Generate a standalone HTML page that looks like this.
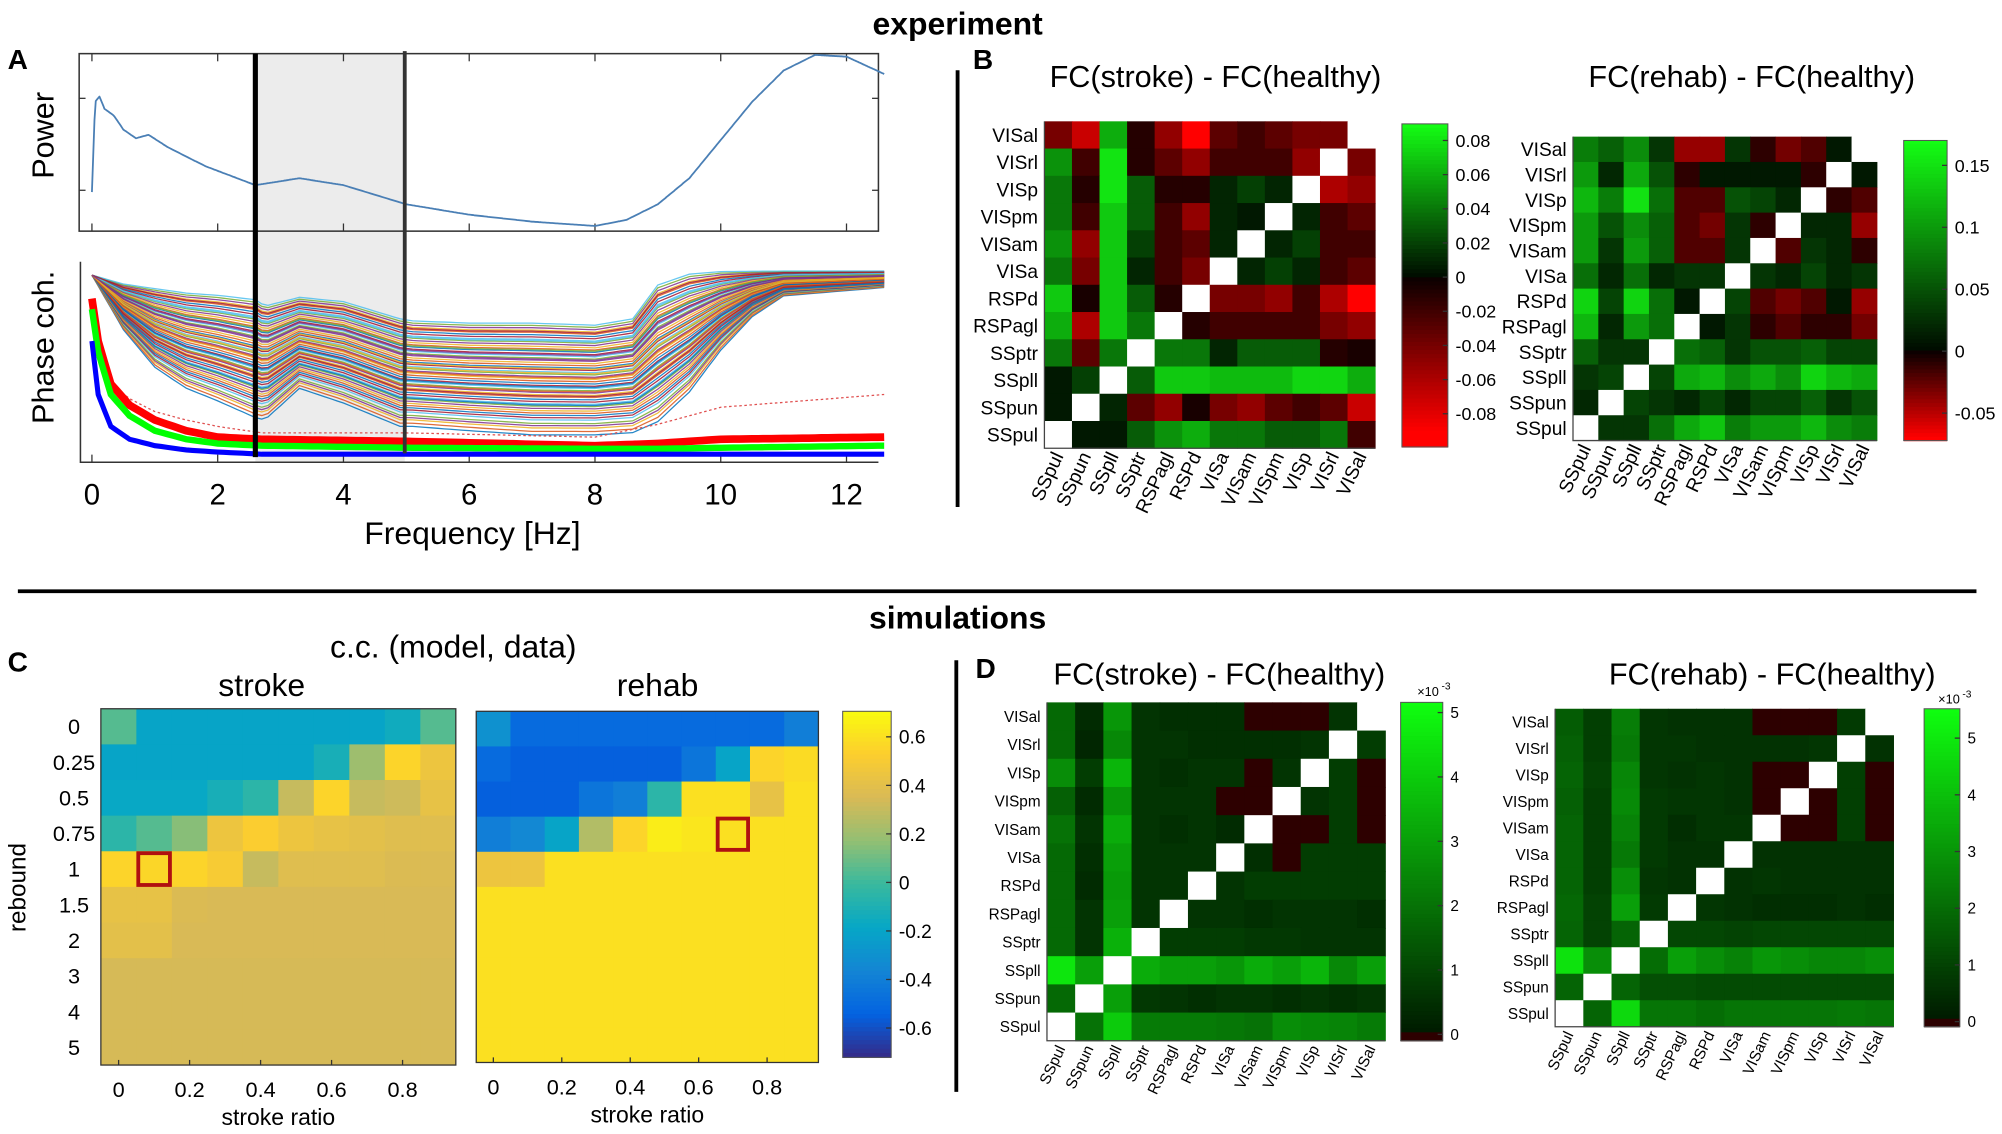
<!DOCTYPE html>
<html><head><meta charset="utf-8">
<style>
html,body{margin:0;padding:0;background:#fff;}
svg{display:block;font-family:"Liberation Sans",Arial,sans-serif;}
</style></head>
<body>
<svg id="fig" xmlns="http://www.w3.org/2000/svg" width="2002" height="1134" viewBox="0 0 1568 888" preserveAspectRatio="none">
<rect x="0" y="0" width="1568" height="888" fill="#fff"/>
<text x="750" y="27" font-size="25" font-weight="bold" text-anchor="middle">experiment</text>
<text x="750" y="492" font-size="25" font-weight="bold" text-anchor="middle">simulations</text>
<text x="6" y="54" font-size="22" font-weight="bold">A</text>
<text x="762" y="54" font-size="22" font-weight="bold">B</text>
<text x="6" y="526" font-size="22" font-weight="bold">C</text>
<text x="764" y="531" font-size="22" font-weight="bold">D</text>
<line x1="14" y1="463" x2="1548" y2="463" stroke="#000" stroke-width="3"/>
<line x1="750" y1="55" x2="750" y2="397" stroke="#000" stroke-width="3"/>
<line x1="749" y1="517" x2="749" y2="855" stroke="#000" stroke-width="3"/>
<text x="952" y="68" font-size="24" text-anchor="middle">FC(stroke) - FC(healthy)</text>
<text x="1372" y="68" font-size="24" text-anchor="middle">FC(rehab) - FC(healthy)</text>
<text x="955" y="536" font-size="24" text-anchor="middle">FC(stroke) - FC(healthy)</text>
<text x="1388" y="536" font-size="24" text-anchor="middle">FC(rehab) - FC(healthy)</text>
<text x="355" y="515" font-size="25" text-anchor="middle">c.c. (model, data)</text>
<text x="205" y="545" font-size="25" text-anchor="middle">stroke</text>
<text x="515" y="545" font-size="25" text-anchor="middle">rehab</text>
</svg>
<script>
// ---------- DATA ----------
const powerFreq=[0,0.05,0.12,0.2,0.35,0.5,0.7,0.9,1.2,1.8,2.6,3.3,4.0,5.0,6.0,7.0,8.0,8.5,9.0,9.5,10.0,10.5,11.0,11.5,12.0,12.6];
const powerVal=[0.21,0.73,0.76,0.69,0.65,0.57,0.52,0.54,0.47,0.36,0.25,0.29,0.25,0.14,0.08,0.04,0.015,0.05,0.14,0.29,0.51,0.73,0.91,1.0,0.99,0.89];
const cohFreq=[0,0.5,1,1.5,2,2.6,2.75,3.3,4,4.9,5.1,6,7,8,8.6,9,9.5,10,10.5,11,12.6];
const cohHigh=[0.86,0.82,0.80,0.78,0.77,0.75,0.72,0.76,0.74,0.66,0.65,0.64,0.64,0.63,0.66,0.82,0.87,0.88,0.88,0.88,0.88];
const cohLow=[0.86,0.6,0.42,0.32,0.26,0.18,0.17,0.32,0.25,0.14,0.14,0.12,0.10,0.10,0.11,0.16,0.3,0.5,0.66,0.76,0.8];
const lineLevels=[0.02,0.05,0.08,0.1,0.12,0.15,0.17,0.19,0.21,0.23,0.25,0.27,0.29,0.31,0.33,0.35,0.37,0.39,0.41,0.43,0.45,0.47,0.49,0.51,0.53,0.55,0.57,0.59,0.61,0.63,0.65,0.67,0.69,0.71,0.73,0.75,0.77,0.79,0.81,0.83,0.85,0.87,0.89,0.91,0.93,0.95,0.97,0.99,0.36,0.44,0.52,0.6,0.68,0.76,0.84,0.92,0.28,0.4,0.56,0.72];
const bandFreq=[0,0.1,0.3,0.6,1,1.5,2,2.7,5,8,9,10,12.6];
const redBand=[0.75,0.55,0.35,0.25,0.18,0.13,0.1,0.09,0.08,0.06,0.07,0.09,0.1];
const greenBand=[0.7,0.5,0.3,0.2,0.13,0.09,0.07,0.06,0.05,0.045,0.045,0.05,0.06];
const blueBand=[0.55,0.3,0.15,0.09,0.06,0.04,0.03,0.02,0.02,0.02,0.02,0.02,0.02];
const redDotted=[0.7,0.5,0.35,0.28,0.22,0.18,0.15,0.12,0.12,0.1,0.16,0.24,0.3];
const freqTicks=[0,2,4,6,8,10,12];

const fcRows=['VISal','VISrl','VISp','VISpm','VISam','VISa','RSPd','RSPagl','SSptr','SSpll','SSpun','SSpul'];
const fcCols=['SSpul','SSpun','SSpll','SSptr','RSPagl','RSPd','VISa','VISam','VISpm','VISp','VISrl','VISal'];
const b1=[
[-0.04,-0.07,0.06,-0.01,-0.05,-0.09,-0.03,-0.02,-0.03,-0.04,-0.04,null],
[0.05,-0.02,0.08,-0.01,-0.03,-0.05,-0.02,-0.02,-0.02,-0.05,null,-0.04],
[0.04,-0.01,0.08,0.03,-0.01,-0.01,0.01,0.02,0.01,null,-0.06,-0.05],
[0.04,-0.02,0.07,0.03,-0.02,-0.05,0.01,0.005,null,0.01,-0.02,-0.03],
[0.05,-0.05,0.07,0.02,-0.02,-0.03,0.01,null,0.01,0.02,-0.02,-0.02],
[0.04,-0.04,0.07,0.01,-0.02,-0.04,null,0.01,0.02,0.01,-0.02,-0.03],
[0.07,-0.005,0.07,0.03,-0.01,null,-0.04,-0.04,-0.05,-0.02,-0.06,-0.09],
[0.06,-0.06,0.07,0.04,null,-0.01,-0.02,-0.02,-0.02,-0.02,-0.04,-0.05],
[0.04,-0.03,0.04,null,0.04,0.04,0.01,0.03,0.03,0.03,-0.01,-0.005],
[0.005,0.02,null,0.03,0.07,0.07,0.065,0.065,0.065,0.075,0.075,0.06],
[0.005,null,0.01,-0.03,-0.05,-0.005,-0.04,-0.05,-0.03,-0.02,-0.03,-0.07],
[null,0.005,0.005,0.03,0.05,0.06,0.04,0.04,0.03,0.03,0.04,-0.02]];
const b2=[
[0.08,0.06,0.09,0.03,-0.04,-0.04,0.03,-0.01,-0.03,-0.02,0.01,null],
[0.1,0.02,0.11,0.05,-0.01,0.01,0.01,0.01,0.01,-0.01,null,0.01],
[0.12,0.08,0.15,0.07,-0.02,-0.02,0.05,0.04,0.02,null,-0.01,-0.02],
[0.1,0.05,0.09,0.06,-0.02,-0.03,0.03,-0.01,null,0.02,0.02,-0.04],
[0.1,0.03,0.1,0.06,-0.02,-0.02,0.03,null,-0.02,0.03,0.02,-0.01],
[0.07,0.02,0.07,0.02,0.03,0.03,null,0.03,0.02,0.04,0.02,0.03],
[0.14,0.04,0.14,0.07,0.01,null,0.04,-0.02,-0.03,-0.02,0.01,-0.04],
[0.12,0.02,0.1,0.07,null,0.01,0.03,-0.01,-0.02,-0.01,-0.01,-0.03],
[0.06,0.03,0.03,null,0.07,0.06,0.03,0.05,0.05,0.06,0.04,0.04],
[0.03,0.04,null,0.04,0.11,0.12,0.09,0.11,0.09,0.14,0.12,0.11],
[0.02,null,0.04,0.03,0.02,0.04,0.02,0.04,0.04,0.06,0.03,0.05],
[null,0.03,0.03,0.07,0.11,0.13,0.08,0.1,0.1,0.12,0.09,0.08]];
const d1=[
[1.8,0.4,2.8,0.6,0.5,0.5,0.5,0,0,0,0.6,null],
[1.8,0.3,2.5,0.6,0.6,0.5,0.5,0.5,0.5,0.6,null,0.8],
[2.6,0.8,3.5,0.6,0.5,0.6,0.6,0,0.6,null,0.8,0],
[1.6,0.4,2.8,0.6,0.6,0.6,0,0,null,0.6,0.8,0],
[2.0,0.6,3.3,0.6,0.5,0.6,0.4,null,0,0,0.8,0],
[1.8,0.5,3.0,0.6,0.6,0.6,null,0.5,0,0.8,0.8,0.8],
[1.8,0.4,2.9,0.6,0.6,null,0.6,0.8,0.8,0.8,0.8,0.8],
[1.8,0.6,3.0,0.6,null,0.6,0.6,0.5,0.6,0.6,0.6,0.5],
[1.8,0.6,3.4,null,0.8,0.8,0.8,0.7,0.7,0.6,0.6,0.6],
[4.6,3.0,null,3.3,3.0,3.0,2.8,3.3,3.0,3.5,2.5,3.0],
[1.8,null,3.0,0.7,0.6,0.5,0.6,0.6,0.5,0.6,0.5,0.6],
[null,2.0,4.0,2.2,2.2,2.2,2.1,2.0,2.6,2.5,2.4,2.2]];
const d2=[
[1.6,0.9,2.4,0.7,0.6,0.6,0.6,0,0,0,0.8,null],
[1.7,0.9,2.3,0.7,0.7,0.6,0.6,0.6,0.6,0.7,null,0.6],
[1.8,1.0,2.6,0.7,0.6,0.7,0.6,0,0,null,0.9,0],
[1.7,0.9,2.7,0.8,0.7,0.7,0.6,0,null,0,0.9,0],
[1.8,0.9,2.5,0.8,0.5,0.7,0.7,null,0,0,0.9,0],
[1.8,0.9,2.3,0.8,0.6,0.6,null,0.6,0.6,0.6,0.6,0.6],
[1.8,0.9,2.8,0.7,0.6,null,0.6,0.7,0.6,0.6,0.6,0.6],
[1.9,1.0,3.2,0.8,null,0.7,0.6,0.5,0.5,0.5,0.6,0.5],
[1.8,1.0,1.8,null,1.1,1.1,1.0,1.1,1.1,1.1,1.1,1.1],
[4.8,2.8,null,2.0,3.2,2.8,2.5,3.0,2.8,2.6,2.6,2.8],
[1.8,null,1.8,1.3,1.3,1.2,1.2,1.2,1.2,1.2,1.2,1.2],
[null,1.8,4.6,2.2,2.2,2.0,2.2,2.2,2.2,2.2,2.3,2.2]];
const reboundLabels=['0','0.25','0.5','0.75','1','1.5','2','3','4','5'];
const ratioTicks=[0,0.2,0.4,0.6,0.8];
const ratioTickLabels=['0','0.2','0.4','0.6','0.8'];
const c1=[
[0.05,-0.2,-0.2,-0.2,-0.2,-0.2,-0.2,-0.2,-0.15,0.05],
[-0.2,-0.2,-0.2,-0.2,-0.2,-0.2,-0.12,0.2,0.55,0.45],
[-0.18,-0.18,-0.18,-0.12,-0.05,0.3,0.55,0.3,0.32,0.42],
[-0.05,0.05,0.15,0.45,0.52,0.45,0.42,0.4,0.38,0.38],
[0.55,0.56,0.55,0.5,0.3,0.38,0.38,0.38,0.36,0.36],
[0.42,0.42,0.36,0.35,0.35,0.35,0.35,0.35,0.35,0.35],
[0.4,0.4,0.35,0.35,0.35,0.35,0.35,0.35,0.35,0.35],
[0.34,0.34,0.34,0.34,0.34,0.34,0.34,0.34,0.34,0.34],
[0.34,0.34,0.34,0.34,0.34,0.34,0.34,0.34,0.34,0.34],
[0.34,0.34,0.34,0.34,0.34,0.34,0.34,0.34,0.34,0.34]];
const c2=[
[-0.3,-0.5,-0.5,-0.5,-0.5,-0.5,-0.5,-0.5,-0.5,-0.4],
[-0.5,-0.55,-0.55,-0.55,-0.55,-0.55,-0.45,-0.2,0.55,0.58],
[-0.55,-0.55,-0.55,-0.45,-0.4,-0.05,0.6,0.6,0.42,0.6],
[-0.4,-0.35,-0.2,0.25,0.55,0.65,0.62,0.6,0.6,0.6],
[0.45,0.45,0.6,0.6,0.6,0.6,0.6,0.6,0.6,0.6],
[0.6,0.6,0.6,0.6,0.6,0.6,0.6,0.6,0.6,0.6],
[0.6,0.6,0.6,0.6,0.6,0.6,0.6,0.6,0.6,0.6],
[0.6,0.6,0.6,0.6,0.6,0.6,0.6,0.6,0.6,0.6],
[0.6,0.6,0.6,0.6,0.6,0.6,0.6,0.6,0.6,0.6],
[0.6,0.6,0.6,0.6,0.6,0.6,0.6,0.6,0.6,0.6]];
const c1Box=[4,1];
const c2Box=[3,7];
const b1Ticks=[0.08,0.06,0.04,0.02,0,-0.02,-0.04,-0.06,-0.08];
const b2Ticks=[0.15,0.1,0.05,0,-0.05];
const cTicks=[0.6,0.4,0.2,0,-0.2,-0.4,-0.6];
const d1Ticks=[5,4,3,2,1,0];
const d2Ticks=[5,4,3,2,1,0];

// ---------- HELPERS ----------
const NS='http://www.w3.org/2000/svg';
const svg=document.getElementById('fig');
function mk(tag,attrs,parent){const e=document.createElementNS(NS,tag);for(const k in attrs)e.setAttribute(k,attrs[k]);(parent||svg).appendChild(e);return e;}
function txt(s,attrs,parent){const e=mk('text',attrs,parent);e.textContent=s;return e;}
function interp(xs,ys,x){if(x<=xs[0])return ys[0];for(let i=1;i<xs.length;i++){if(x<=xs[i]){const t=(x-xs[i-1])/(xs[i]-xs[i-1]);return ys[i-1]+t*(ys[i]-ys[i-1]);}}return ys[ys.length-1];}
function hex(c){return [parseInt(c.slice(1,3),16),parseInt(c.slice(3,5),16),parseInt(c.slice(5,7),16)];}
const parula=['#352a87','#0363e1','#1485d4','#06a7c6','#38b99e','#92bf73','#d9ba56','#fcce2e','#f9fb0e'].map(hex);
function parulaColor(v,lo,hi){let t=Math.max(0,Math.min(1,(v-lo)/(hi-lo)))*(parula.length-1);const i=Math.min(parula.length-2,Math.floor(t));const f=t-i;const a=parula[i],b=parula[i+1];return 'rgb('+[0,1,2].map(k=>Math.round(a[k]+f*(b[k]-a[k]))).join(',')+')';}
function rgColor(v,lo,hi){if(v>=0){const t=Math.min(1,v/hi);return 'rgb('+Math.round(20*t)+','+Math.round(10+245*t)+','+Math.round(20*t)+')';}const t=Math.min(1,v/lo);return 'rgb('+Math.round(10+245*t)+',0,0)';}
function gColor(v,hi){if(v<=0.05)return 'rgb(45,0,0)';const t=Math.min(1,v/hi);return 'rgb('+Math.round(15*t)+','+Math.round(25+230*t)+','+Math.round(15*t)+')';}

// ---------- PANEL A ----------
const fx=f=>72+f*49.25;
const pY=v=>179-v*136;
const cY=v=>359-v*167;
const gA=mk('g',{});


const shade=mk('rect',{x:200,y:42,width:117,height:320,fill:'#ececec'},gA);


const pBox=mk('rect',{x:62,y:42,width:626,height:139,fill:'none',stroke:'#333','stroke-width':1.2},gA);


freqTicks.forEach(f=>{
  const t1=mk('line',{x1:fx(f),y1:181,x2:fx(f),y2:175,stroke:'#333'},gA);
  
  
  const t2=mk('line',{x1:fx(f),y1:42,x2:fx(f),y2:48,stroke:'#333'},gA);
  
  
  const t3=mk('line',{x1:fx(f),y1:362,x2:fx(f),y2:356,stroke:'#333'},gA);
  
  
  const lb=txt(String(f),{x:fx(f),y:395,'font-size':23,'text-anchor':'middle'},gA);
  
  
});
[77,149].forEach(y=>{
  const a=mk('line',{x1:62,y1:y,x2:67,y2:y,stroke:'#333'},gA);
  
  
  const b=mk('line',{x1:688,y1:y,x2:683,y2:y,stroke:'#333'},gA);
  
  
});
let pd='';
for(let f=0;f<=12.6;f+=0.02){pd+=(pd?'L':'M')+fx(f).toFixed(1)+','+pY(interp(powerFreq,powerVal,f)).toFixed(1);}
const pLine=mk('path',{d:pd,fill:'none',stroke:'#4a7fb5','stroke-width':1.4,'stroke-linejoin':'round'},gA);


const pT=txt('Power',{x:0,y:0,'font-size':24,'text-anchor':'middle',transform:'translate(42,106) rotate(-90)'},gA);


const cT=txt('Phase coh.',{x:0,y:0,'font-size':24,'text-anchor':'middle',transform:'translate(42,272) rotate(-90)'},gA);


const fT=txt('Frequency [Hz]',{x:370,y:426,'font-size':25,'text-anchor':'middle'},gA);


const colors=['#0072bd','#d95319','#edb120','#7e2f8e','#77ac30','#4dbeee','#a2142f'];
lineLevels.forEach((l,i)=>{
  let d='';
  for(let f=0;f<=12.6;f+=0.1){const lo=interp(cohFreq,cohLow,f),hi=interp(cohFreq,cohHigh,f);d+=(d?'L':'M')+fx(f).toFixed(1)+','+cY(lo+(hi-lo)*l).toFixed(1);}
  const p=mk('path',{d:d,fill:'none',stroke:colors[i%colors.length],'stroke-width':1,opacity:0.85},gA);
  
  
});
function band(arr,color,w,dash){let d='';for(let f=0;f<=12.6;f+=0.1){d+=(d?'L':'M')+fx(f).toFixed(1)+','+cY(interp(bandFreq,arr,f)).toFixed(1);}const p=mk('path',{d:d,fill:'none',stroke:color,'stroke-width':w},gA);if(dash)p.setAttribute('stroke-dasharray',dash);return p;}
const rd=band(redDotted,'#e05050',1,"2,2");


const rb=band(redBand,'#ff0000',6);


const gb=band(greenBand,'#00ff00',5);


const bb=band(blueBand,'#0000ff',4);


const cAx=mk('path',{d:'M63,205 L63,362 L688,362',fill:'none',stroke:'#333','stroke-width':1.2},gA);


const v1=mk('line',{x1:200,y1:42,x2:200,y2:358,stroke:'#000','stroke-width':4},gA);


const v2=mk('line',{x1:317,y1:40,x2:317,y2:355,stroke:'#333','stroke-width':3},gA);



// ---------- HEATMAPS ----------
function drawFC(M,x0,x1,y0,y1,colorFn,fs,name){
  const g=mk('g',{});
  
  
  const n=M.length,m=M[0].length,cw=(x1-x0)/m,ch=(y1-y0)/n;
  M.forEach((row,i)=>row.forEach((v,j)=>{
    const r=mk('rect',{x:(x0+j*cw).toFixed(2),y:(y0+i*ch).toFixed(2),width:(cw+0.4).toFixed(2),height:(ch+0.4).toFixed(2),fill:v===null?'#fff':colorFn(v)},g);
    
    
  }));
  const ax=mk('path',{d:'M'+x0+','+y0+' L'+x0+','+y1+' L'+x1+','+y1,fill:'none',stroke:'#444','stroke-width':1},g);
  
  
  fcRows.forEach((s,i)=>{
    const t=txt(s,{x:x0-5,y:y0+(i+0.5)*ch+fs*0.36,'font-size':fs,'text-anchor':'end'},g);
    
    
  });
  fcCols.forEach((s,j)=>{
    const cx=x0+(j+0.5)*cw+fs*0.3,cy=y1+6;
    const t=txt(s,{x:0,y:0,'font-size':fs,'text-anchor':'end',transform:'translate('+cx.toFixed(1)+','+cy+') rotate(-65)'},g);
    
    
  });
}
function drawCbar(x0,x1,y0,y1,lo,hi,colorFn,ticks,yOf,fs,name){
  const g=mk('g',{});
  
  
  const N=80;
  for(let k=0;k<N;k++){
    const v=hi-(hi-lo)*(k+0.5)/N;
    const r=mk('rect',{x:x0,y:(y0+(y1-y0)*k/N).toFixed(2),width:x1-x0,height:((y1-y0)/N+0.5).toFixed(2),fill:colorFn(v)},g);
    
    
  }
  const b=mk('rect',{x:x0,y:y0,width:x1-x0,height:y1-y0,fill:'none',stroke:'#555','stroke-width':0.8},g);
  
  
  ticks.forEach(v=>{
    const y=yOf(v);
    const tk=mk('line',{x1:x1-4,y1:y,x2:x1,y2:y,stroke:'#333'},g);
    
    
    const t=txt(String(v),{x:x1+6,y:y+fs*0.36,'font-size':fs},g);
    
    
  });
}
drawFC(b1,818,1077,95,351,v=>rgColor(v,-0.09,0.09),15,'heatmap-b-stroke');
drawCbar(1098,1134,97,350,-0.099,0.09,v=>rgColor(v,-0.09,0.09),b1Ticks,v=>217-v*1337.5,14,'colorbar-b-stroke');
drawFC(b2,1232,1470,107,345,v=>rgColor(v,-0.07,0.17),15,'heatmap-b-rehab');
drawCbar(1491,1525,110,345,-0.072,0.17,v=>rgColor(v,-0.07,0.17),b2Ticks,v=>275-v*970,14,'colorbar-b-rehab');
drawFC(d1,820,1085,550,815,v=>gColor(v,5.16),12,'heatmap-d-stroke');
drawCbar(1097,1130,550,815,-0.1,5.16,v=>gColor(v,5.16),d1Ticks,v=>810-v*50.4,12,'colorbar-d-stroke');
drawFC(d2,1218,1483,555,804,v=>gColor(v,5.5),12,'heatmap-d-rehab');
drawCbar(1507,1535,555,804,-0.1,5.5,v=>gColor(v,5.5),d2Ticks,v=>800-v*44.4,12,'colorbar-d-rehab');
[[1110,545],[1518,551]].forEach(a=>{
  const t=txt('×10',{x:a[0],y:a[1],'font-size':10},svg);
  
  
  const s=txt('-3',{x:a[0]+19,y:a[1]-5,'font-size':8},svg);
  
  
});

function drawC(M,x0,x1,y0,y1,box,showY,name){
  const g=mk('g',{});
  
  
  const n=M.length,m=M[0].length,cw=(x1-x0)/m,ch=(y1-y0)/n;
  M.forEach((row,i)=>row.forEach((v,j)=>{
    const r=mk('rect',{x:(x0+j*cw).toFixed(2),y:(y0+i*ch).toFixed(2),width:(cw+0.4).toFixed(2),height:(ch+0.4).toFixed(2),fill:parulaColor(v,-0.72,0.705)},g);
    
    
  }));
  const fr=mk('rect',{x:x0,y:y0,width:x1-x0,height:y1-y0,fill:'none',stroke:'#333','stroke-width':1},g);
  
  
  const bx=mk('rect',{x:x0+box[1]*cw+1.5,y:y0+box[0]*ch+1.5,width:cw-3,height:ch-3,fill:'none',stroke:'#b01010','stroke-width':3},g);
  
  
  if(showY){reboundLabels.forEach((s,i)=>{
    const t=txt(s,{x:x0-21,y:y0+(i+0.5)*ch+6,'font-size':17,'text-anchor':'middle'},g);
    
    
  });}
  ratioTicks.forEach((r,k)=>{
    const x=x0+(r*10+0.5)*cw;
    const tk=mk('line',{x1:x,y1:y1,x2:x,y2:y1-4,stroke:'#333'},g);
    
    
    const t=txt(ratioTickLabels[k],{x:x,y:y1+25,'font-size':17,'text-anchor':'middle'},g);
    
    
  });
  const xt=txt('stroke ratio',{x:(x0+x1)/2,y:y1+47,'font-size':18,'text-anchor':'middle'},g);
  
  
}
drawC(c1,79,357,555,834,c1Box,true,'heatmap-c-stroke');
drawC(c2,373,641,557,832,c2Box,false,'heatmap-c-rehab');
drawCbar(660,698,557,828,-0.72,0.705,v=>parulaColor(v,-0.72,0.705),cTicks,v=>691-v*190,15,'colorbar-c');
const rt=txt('rebound',{x:0,y:0,'font-size':19,'text-anchor':'middle',transform:'translate(20,695) rotate(-90)'},svg);


</script>
</body></html>
